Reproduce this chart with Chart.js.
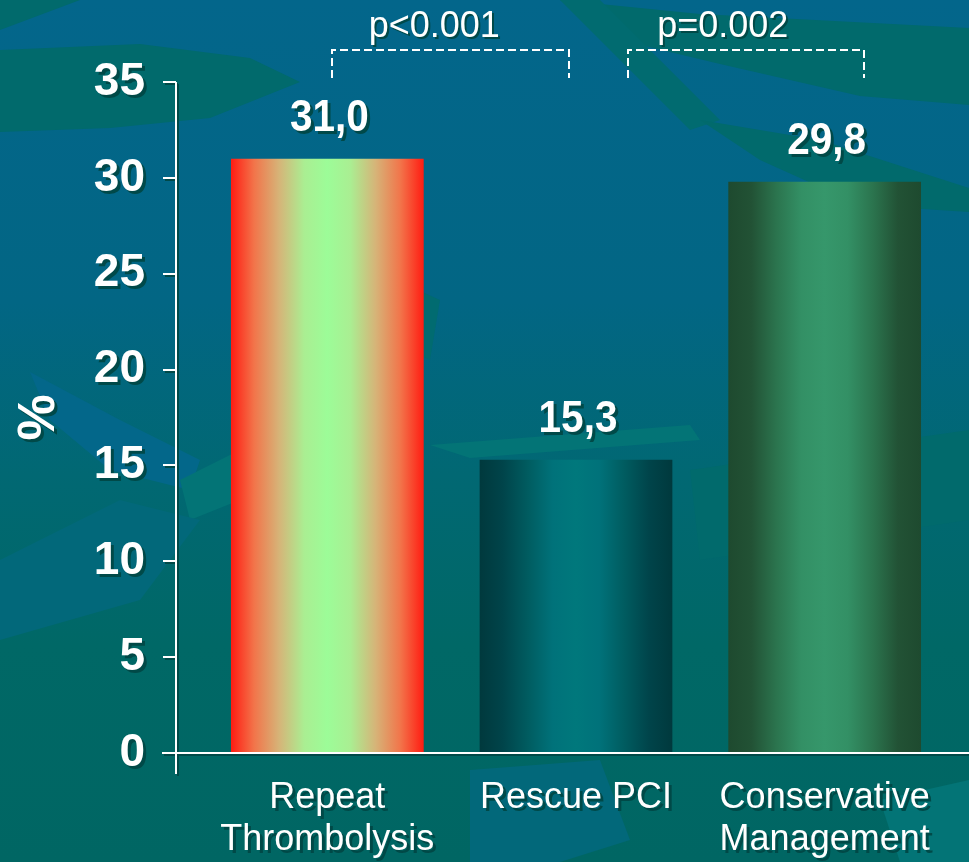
<!DOCTYPE html>
<html><head><meta charset="utf-8">
<script src="https://cdn.jsdelivr.net/npm/chart.js@4.4.0/dist/chart.umd.min.js"></script>
<style>html,body{margin:0;padding:0;background:#02677a;overflow:hidden}canvas{display:block}</style>
</head><body>
<canvas id="c" width="969" height="862"></canvas>
<script>
// ---- data ----
const categories = [['Repeat', 'Thrombolysis'], 'Rescue PCI', ['Conservative', 'Management']];
const values = [31.0, 15.3, 29.8];
const valueLabels = ['31,0', '15,3', '29,8'];
const yTicks = [0, 5, 10, 15, 20, 25, 30, 35];
const pLabels = ['p<0.001', 'p=0.002'];
const yTitle = '%';

// ---- styles ----
const FONT = '"Liberation Sans", Arial, Helvetica, sans-serif';
const SHADOW = 'rgba(0,72,70,0.95)';
const gradStops = [0, 0.12, 0.25, 0.38, 0.5, 0.62, 0.75, 0.88, 1];
const barColors = [
  ['#ff1c12', '#f2744a', '#d6b478', '#aaee92', '#9cfc98', '#aaee92', '#d6b478', '#f2744a', '#ff1c12'],
  ['#00393d', '#00444a', '#005c60', '#00727a', '#00787c', '#00727a', '#005c60', '#00444a', '#00393d'],
  ['#1e4a2f', '#225235', '#2b744e', '#339065', '#36976b', '#339065', '#2b744e', '#225235', '#1e4a2f']
];
// bracket geometry (category-unit fractions and value heights)
const bracketSpans = [[0.02, 0.97], [1.21, 2.16]];
const bracketTextX = [0.43, 1.59];
const bracketTop = 36.67, bracketBottom = 35.21, bracketTextY = 37.35;
const AXIS_GAP = 27;
const BAR_PCT = 0.775;

function setShadow(ctx, on) {
  if (on) { ctx.shadowColor = SHADOW; ctx.shadowOffsetX = 3; ctx.shadowOffsetY = 3; ctx.shadowBlur = 0; }
  else { ctx.shadowColor = 'rgba(0,0,0,0)'; ctx.shadowOffsetX = 0; ctx.shadowOffsetY = 0; ctx.shadowBlur = 0; }
}

function poly(ctx, pts, color) {
  ctx.beginPath();
  ctx.moveTo(pts[0][0], pts[0][1]);
  for (let i = 1; i < pts.length; i++) ctx.lineTo(pts[i][0], pts[i][1]);
  ctx.closePath();
  ctx.fillStyle = color;
  ctx.fill();
}

const decor = {
  id: 'decor',
  beforeDraw(chart) {
    const { ctx, width, height } = chart;
    setShadow(ctx, false);
    ctx.save();
    const g = ctx.createLinearGradient(0, 0, 0, height);
    g.addColorStop(0, '#03668b');
    g.addColorStop(0.35, '#026684');
    g.addColorStop(0.55, '#016873');
    g.addColorStop(0.75, '#006866');
    g.addColorStop(1, '#006663');
    ctx.fillStyle = g;
    ctx.fillRect(0, 0, width, height);
    const teal = '#016a6c', teal2 = '#016b70', blue = '#03678a', blueSoft = '#02687a', light = '#037476';
    poly(ctx, [[0, 50], [140, 44], [250, 58], [300, 82], [210, 118], [110, 128], [0, 132]], teal);
    poly(ctx, [[560, 0], [700, 14], [969, 28], [969, 105], [860, 96], [720, 64], [620, 40]], teal);
    poly(ctx, [[560, 0], [600, 0], [720, 120], [690, 130]], teal2);
    poly(ctx, [[700, 120], [820, 140], [969, 188], [969, 212], [860, 205], [760, 160]], teal);
    poly(ctx, [[0, 0], [80, 0], [0, 30]], teal);
    poly(ctx, [[330, 250], [440, 300], [430, 360], [360, 330]], teal2);
    poly(ctx, [[30, 372], [120, 420], [200, 460], [190, 490], [110, 470], [50, 420]], blue);
    poly(ctx, [[180, 480], [260, 440], [330, 450], [240, 500], [190, 520]], light);
    poly(ctx, [[0, 560], [120, 500], [200, 520], [140, 600], [0, 640]], blueSoft);
    poly(ctx, [[430, 445], [690, 425], [700, 440], [470, 458]], light);
    poly(ctx, [[690, 470], [969, 430], [969, 520], [700, 560]], teal);
    poly(ctx, [[470, 770], [600, 760], [630, 840], [560, 862], [470, 862]], blueSoft);
    poly(ctx, [[880, 800], [969, 780], [969, 862], [900, 862]], light);
    ctx.restore();
    setShadow(ctx, true);
  },
  beforeDatasetsDraw(chart) { setShadow(chart.ctx, false); },
  afterDatasetsDraw(chart) {
    const { ctx, chartArea } = chart;
    const x = chart.scales.x, y = chart.scales.y;
    const axisX = Math.round(chartArea.left - AXIS_GAP);
    const y0 = Math.round(y.getPixelForValue(0));
    ctx.save();
    // axes
    setShadow(ctx, true);
    ctx.shadowOffsetX = 2; ctx.shadowOffsetY = 2;
    ctx.strokeStyle = '#ffffff';
    ctx.lineWidth = 2;
    ctx.beginPath();
    ctx.moveTo(axisX, Math.round(y.getPixelForValue(yTicks[yTicks.length - 1])));
    ctx.lineTo(axisX, y0 + 21);
    yTicks.forEach(v => {
      const py = Math.round(y.getPixelForValue(v));
      ctx.moveTo(axisX - 13, py);
      ctx.lineTo(axisX, py);
    });
    ctx.moveTo(axisX - 14, y0);
    ctx.lineTo(chart.width, y0);
    ctx.stroke();
    // value labels (slightly condensed bold)
    setShadow(ctx, true);
    ctx.fillStyle = '#ffffff';
    ctx.font = 'bold 45px ' + FONT;
    ctx.textAlign = 'center';
    ctx.textBaseline = 'alphabetic';
    const meta = chart.getDatasetMeta(0);
    meta.data.forEach((el, i) => {
      ctx.save();
      ctx.translate(el.x + 2, el.y - 28);
      ctx.scale(0.9, 1);
      ctx.fillText(valueLabels[i], 0, 0);
      ctx.restore();
    });
    // p-value brackets
    setShadow(ctx, false);
    ctx.setLineDash([8, 4]);
    ctx.lineWidth = 2;
    const yt = Math.round(y.getPixelForValue(bracketTop)), yb = Math.round(y.getPixelForValue(bracketBottom));
    bracketSpans.forEach(([a, b]) => {
      const xa = Math.round(x.getPixelForValue(a)), xb = Math.round(x.getPixelForValue(b));
      ctx.beginPath();
      ctx.moveTo(xa, yb); ctx.lineTo(xa, yt); ctx.lineTo(xb, yt); ctx.lineTo(xb, yb);
      ctx.stroke();
    });
    ctx.setLineDash([]);
    setShadow(ctx, true);
    ctx.shadowOffsetX = 2; ctx.shadowOffsetY = 2;
    ctx.font = '36px ' + FONT;
    pLabels.forEach((t, i) => {
      ctx.fillText(t, x.getPixelForValue(bracketTextX[i]), y.getPixelForValue(bracketTextY));
    });
    ctx.restore();
  }
};

function barGradient(context) {
  const chart = context.chart;
  const xs = chart.scales && chart.scales.x;
  const i = context.dataIndex;
  if (!xs || !chart.chartArea || i === undefined) return barColors[0][0];
  const cx = xs.getPixelForValue(i);
  const half = (xs.width / categories.length) * BAR_PCT / 2;
  const g = chart.ctx.createLinearGradient(cx - half, 0, cx + half, 0);
  gradStops.forEach((s, k) => g.addColorStop(s, barColors[i][k]));
  return g;
}

new Chart(document.getElementById('c'), {
  type: 'bar',
  data: {
    labels: categories,
    datasets: [{
      data: values,
      backgroundColor: barGradient,
      borderWidth: 0,
      barPercentage: BAR_PCT,
      categoryPercentage: 1
    }]
  },
  options: {
    responsive: false,
    animation: false,
    devicePixelRatio: 1,
    layout: { padding: { top: 82, right: 20, left: 0, bottom: 0 } },
    plugins: { legend: { display: false }, tooltip: { enabled: false } },
    scales: {
      x: {
        grid: { display: false, drawTicks: false },
        border: { display: false },
        ticks: {
          color: '#ffffff',
          font: { family: FONT, size: 36, lineHeight: 1.17 },
          padding: 24,
          maxRotation: 0,
          autoSkip: false
        },
        afterFit(s) { s.height = 109; s.paddingLeft = 0; s.paddingRight = 0; }
      },
      y: {
        min: 0,
        max: 35,
        afterBuildTicks(s) { s.ticks = yTicks.map(v => ({ value: v })); },
        grid: { display: false, drawTicks: false },
        border: { display: false },
        ticks: {
          color: '#ffffff',
          font: { family: FONT, size: 46, weight: 'bold' },
          padding: 58
        },
        title: {
          display: true,
          text: yTitle,
          color: '#ffffff',
          font: { family: FONT, size: 52, weight: 'bold' },
          padding: { top: 8, bottom: 0 }
        },
        afterFit(s) { s.width = 203; s.paddingTop = 0; s.paddingBottom = 0; }
      }
    }
  },
  plugins: [decor]
});
</script>
</body></html>
